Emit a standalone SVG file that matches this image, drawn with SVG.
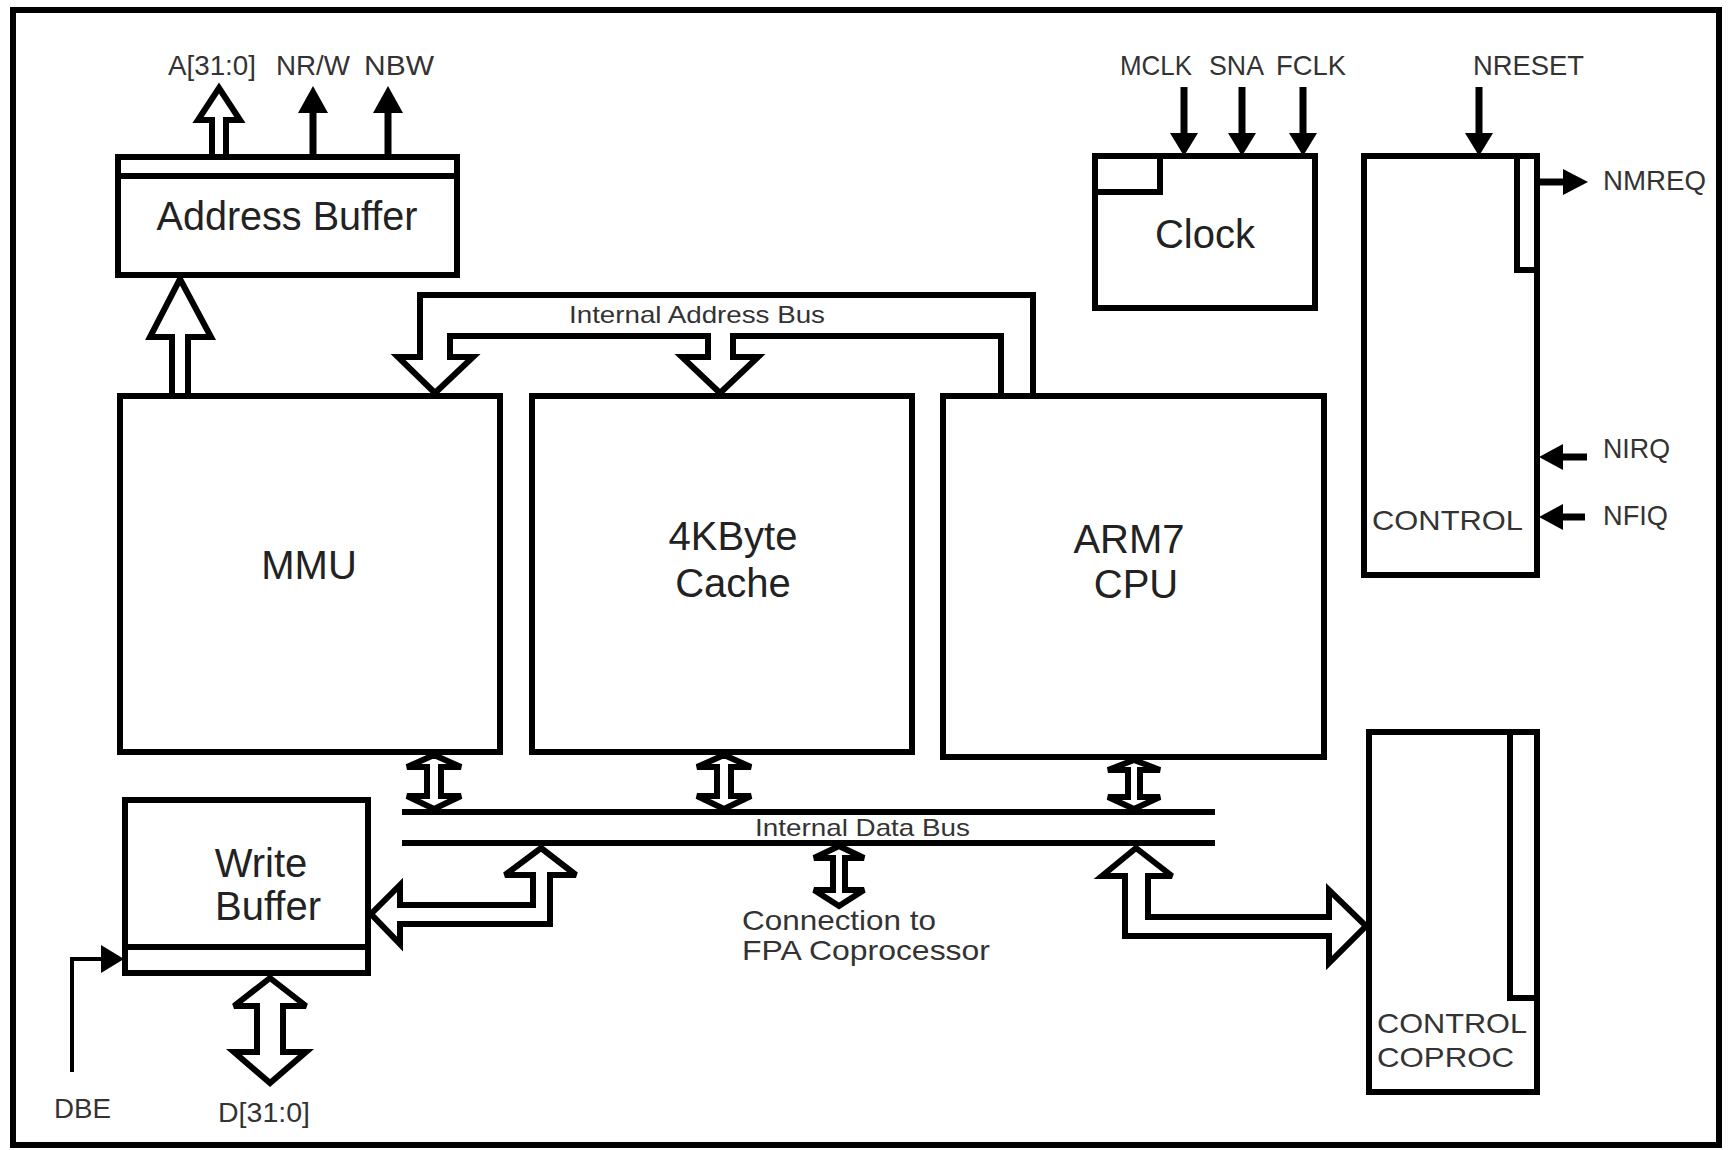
<svg xmlns="http://www.w3.org/2000/svg" width="1733" height="1150" viewBox="0 0 1733 1150">
<style>
.box{fill:#fff;stroke:#000;stroke-width:6}
.ln{fill:none;stroke:#000;stroke-width:6}
.bus{fill:#fff;stroke:#000;stroke-width:6;stroke-linejoin:miter;stroke-miterlimit:3}
.sig{fill:none;stroke:#000;stroke-width:7}
.thin{fill:none;stroke:#000;stroke-width:4}
.hd{fill:#000;stroke:none}
.big{font-family:"Liberation Sans",Arial,sans-serif;font-size:40px;fill:#222;text-anchor:middle}
.sm{font-family:"Liberation Sans",Arial,sans-serif;font-size:28px;fill:#333}
.md{font-family:"Liberation Sans",Arial,sans-serif;font-size:24px;fill:#333}
</style>
<rect x="0" y="0" width="1733" height="1150" fill="#fff"/>
<rect id="frame" x="13" y="10" width="1706" height="1135" class="ln"/>

<g id="connectors">
  <!-- Internal address bus -->
  <polygon class="bus" points="1033,396 1033,295 420,295 420,357 398,357 435,393 473,357 450,357 450,336 708,336 708,357 682,357 720,393 758,357 733,357 733,336 1001,336 1001,396"/>
  <text class="md" x="569" y="323" textLength="256" lengthAdjust="spacingAndGlyphs">Internal Address Bus</text>
  <!-- MMU to Address Buffer -->
  <polygon class="bus" points="180,279 211,337 188,337 188,396 172,396 172,337 150,337"/>
  <!-- Address outputs -->
  <polygon class="bus" points="219,88 240,120 226,120 226,157 212,157 212,120 198,120"/>
  <line class="sig" x1="313" y1="157" x2="313" y2="108"/>
  <polygon class="hd" points="313,86 328,113 298,113"/>
  <line class="sig" x1="388" y1="157" x2="388" y2="108"/>
  <polygon class="hd" points="388,86 403,113 373,113"/>
  <!-- Clock inputs -->
  <line class="sig" x1="1184" y1="87" x2="1184" y2="138"/>
  <polygon class="hd" points="1170,133 1198,133 1184,156"/>
  <line class="sig" x1="1242" y1="87" x2="1242" y2="138"/>
  <polygon class="hd" points="1228,133 1256,133 1242,156"/>
  <line class="sig" x1="1303" y1="87" x2="1303" y2="138"/>
  <polygon class="hd" points="1289,133 1317,133 1303,156"/>
  <line class="sig" x1="1479" y1="87" x2="1479" y2="138"/>
  <polygon class="hd" points="1465,133 1493,133 1479,156"/>
  <!-- NMREQ / NIRQ / NFIQ -->
  <line class="sig" x1="1537" y1="182" x2="1568" y2="182"/>
  <polygon class="hd" points="1563,169 1563,195 1588,182"/>
  <line class="sig" x1="1587" y1="457" x2="1556" y2="457"/>
  <polygon class="hd" points="1563,444 1563,470 1539,457"/>
  <line class="sig" x1="1585" y1="517" x2="1556" y2="517"/>
  <polygon class="hd" points="1563,504 1563,530 1539,517"/>
  <!-- Internal data bus -->
  <line class="ln" x1="402" y1="812" x2="1215" y2="812"/>
  <line class="ln" x1="402" y1="843" x2="1215" y2="843"/>
  <text class="md" x="755" y="836" textLength="215" lengthAdjust="spacingAndGlyphs">Internal Data Bus</text>
  <!-- box <-> data bus -->
  <polygon class="bus" points="434,755 461,767 441,767 441,796 461,796 434,809 407,796 427,796 427,767 407,767"/>
  <polygon class="bus" points="724,755 751,767 731,767 731,796 751,796 724,809 697,796 717,796 717,767 697,767"/>
  <polygon class="bus" points="1134,760 1160,770 1140,770 1140,797 1160,797 1134,809 1108,797 1128,797 1128,770 1108,770"/>
  <line x1="1133" y1="745" x2="1133" y2="762" stroke="#000" stroke-width="2"/>
  <!-- FPA connection -->
  <polygon class="bus" points="839,846 864,858 845,858 845,890 864,890 839,906 814,890 833,890 833,858 814,858"/>
  <text class="sm" x="742" y="930" textLength="194" lengthAdjust="spacingAndGlyphs">Connection to</text>
  <text class="sm" x="742" y="960" textLength="248" lengthAdjust="spacingAndGlyphs">FPA Coprocessor</text>
  <!-- bus to write buffer -->
  <polygon class="bus" points="541,848 576,875 550,875 550,924 400,924 400,944 371,914 400,885 400,905 533,905 533,875 505,875"/>
  <!-- bus to coprocessor control -->
  <polygon class="bus" points="1136,848 1172,876 1148,876 1148,917 1329,917 1329,890 1366,926 1329,963 1329,936 1125,936 1125,876 1102,876"/>
  <!-- D[31:0] -->
  <polygon class="bus" points="270,978 306,1006 283,1006 283,1052 306,1052 270,1083 234,1052 257,1052 257,1006 234,1006"/>
  <!-- DBE -->
  <polyline class="thin" points="72,1072 72,959 104,959"/>
  <polygon class="hd" points="101,945 101,973 124,959"/>
</g>

<g id="labels">
  <text class="sm" x="168" y="75" textLength="88" lengthAdjust="spacingAndGlyphs">A[31:0]</text>
  <text class="sm" x="276" y="75" textLength="74" lengthAdjust="spacingAndGlyphs">NR/W</text>
  <text class="sm" x="364" y="75" textLength="70" lengthAdjust="spacingAndGlyphs">NBW</text>
  <text class="sm" x="1120" y="75" textLength="72" lengthAdjust="spacingAndGlyphs">MCLK</text>
  <text class="sm" x="1209" y="75" textLength="55" lengthAdjust="spacingAndGlyphs">SNA</text>
  <text class="sm" x="1276" y="75" textLength="70" lengthAdjust="spacingAndGlyphs">FCLK</text>
  <text class="sm" x="1473" y="75" textLength="111" lengthAdjust="spacingAndGlyphs">NRESET</text>
  <text class="sm" x="1603" y="190" textLength="103" lengthAdjust="spacingAndGlyphs">NMREQ</text>
  <text class="sm" x="1603" y="458" textLength="67" lengthAdjust="spacingAndGlyphs">NIRQ</text>
  <text class="sm" x="1603" y="525" textLength="65" lengthAdjust="spacingAndGlyphs">NFIQ</text>
  <text class="sm" x="54" y="1118" textLength="57" lengthAdjust="spacingAndGlyphs">DBE</text>
  <text class="sm" x="218" y="1122" textLength="92" lengthAdjust="spacingAndGlyphs">D[31:0]</text>
</g>

<g id="address-buffer">
  <rect class="box" x="118" y="157" width="339" height="118"/>
  <line class="ln" x1="118" y1="176" x2="457" y2="176"/>
  <text class="big" x="287" y="230" font-size="36" textLength="261" lengthAdjust="spacingAndGlyphs">Address Buffer</text>
</g>

<g id="mmu">
  <rect class="box" x="120" y="396" width="380" height="356"/>
  <text class="big" x="309" y="579">MMU</text>
</g>

<g id="cache">
  <rect class="box" x="532" y="396" width="380" height="356"/>
  <text class="big" x="733" y="550">4KByte</text>
  <text class="big" x="733" y="597">Cache</text>
</g>

<g id="cpu">
  <rect class="box" x="943" y="396" width="381" height="361"/>
  <text class="big" x="1129" y="553">ARM7</text>
  <text class="big" x="1136" y="598">CPU</text>
</g>

<g id="clock">
  <rect class="box" x="1095" y="156" width="220" height="152"/>
  <rect class="box" x="1095" y="156" width="65" height="36"/>
  <text class="big" x="1205" y="248">Clock</text>
</g>

<g id="control">
  <rect class="box" x="1364" y="156" width="173" height="419"/>
  <rect class="box" x="1517" y="156" width="20" height="114"/>
  <text class="sm" x="1372" y="530" font-size="30" textLength="151" lengthAdjust="spacingAndGlyphs">CONTROL</text>
</g>

<g id="control-coproc">
  <rect class="box" x="1369" y="732" width="168" height="360"/>
  <rect class="box" x="1510" y="732" width="27" height="266"/>
  <text class="sm" x="1377" y="1033" font-size="30" textLength="150" lengthAdjust="spacingAndGlyphs">CONTROL</text>
  <text class="sm" x="1377" y="1067" font-size="30" textLength="137" lengthAdjust="spacingAndGlyphs">COPROC</text>
</g>

<g id="write-buffer">
  <rect class="box" x="125" y="800" width="243" height="173"/>
  <line class="ln" x1="125" y1="947" x2="368" y2="947"/>
  <text class="big" x="261" y="877">Write</text>
  <text class="big" x="268" y="920">Buffer</text>
</g>
</svg>
